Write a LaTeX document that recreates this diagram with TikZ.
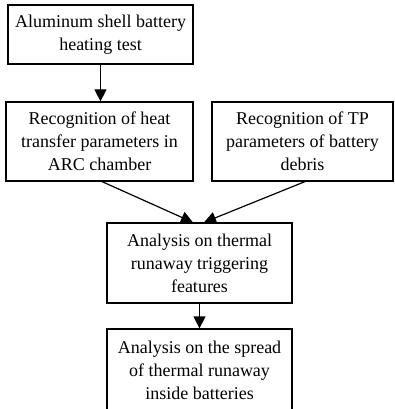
\documentclass[tikz,border=0pt]{standalone}
\usepackage{fontspec}
\setmainfont{Liberation Serif}
\usetikzlibrary{arrows.meta}
\begin{document}
\begin{tikzpicture}[x=1pt,y=-1pt,
  box/.style={draw,line width=1.2pt,inner sep=0pt,align=center,
    font=\fontsize{18}{23}\selectfont},
  conn/.style={line width=1.2pt,-{Triangle[length=12pt,width=12pt]}}]
\useasboundingbox (0,0) rectangle (394,409);
\clip (0,0) rectangle (394,409);
\node[box,minimum width=185pt,minimum height=59pt] (b1) at (100.5,34.5)
  {Aluminum shell battery\\heating test};
\node[box,minimum width=187pt,minimum height=79pt] (b2) at (99.5,141.5)
  {Recognition of heat\\transfer parameters in\\ARC chamber};
\node[box,minimum width=181pt,minimum height=79pt] (b3) at (302.5,141.5)
  {Recognition of TP\\parameters of battery\\debris};
\node[box,minimum width=185pt,minimum height=80pt] (b4) at (199.5,263)
  {Analysis on thermal\\runaway triggering\\features};
\node[box,minimum width=185pt,minimum height=82pt] (b5) at (199.5,370)
  {Analysis on the spread\\of thermal runaway\\inside batteries};
\draw[conn] (b1.south) -- (b1.south |- b2.north);
\draw[conn] ([xshift=2.5pt]b2.south) -- ([xshift=-6.5pt]b4.north);
\draw[conn] ([xshift=2.5pt]b3.south) -- ([xshift=4.5pt]b4.north);
\draw[conn] (b4.south) -- (b5.north);
\end{tikzpicture}
\end{document}
